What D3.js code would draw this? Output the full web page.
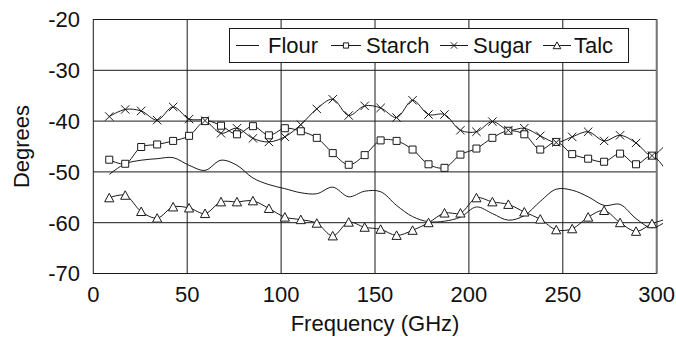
<!DOCTYPE html>
<html>
<head>
<meta charset="utf-8">
<script src="https://cdn.jsdelivr.net/npm/d3@7"></script>
<style>
  body { margin: 0; background: #fff; }
  svg { display: block; font-family: "Liberation Sans", Arial, sans-serif; }
</style>
</head>
<body>
<svg id="canvas"></svg>
<script>
// Frequency points (GHz) shared by every series
const freq = [8.5, 17, 25.5, 34, 42.5, 51, 59.5, 68, 76.5, 85, 93.5, 102, 110.5, 119, 127.5,
    136, 144.5, 153, 161.5, 170, 178.5, 187, 195.5, 204, 212.5, 221, 229.5, 238, 246.5,
    255, 263.5, 272, 280.5, 289, 297.5, 306];

const flour = [-50.5, -48.4, -47.7, -47.4, -47.2, -48.7, -49.7, -47.7, -48.7, -51.2, -52.5,
    -53.3, -54.1, -54.3, -53.0, -54.9, -53.8, -53.9, -56.6, -58.8, -59.8, -59.7, -58.9,
    -56.9, -58.2, -59.5, -58.6, -55.8, -53.4, -53.6, -54.9, -56.6, -56.4, -59.2, -61.0, -59.5];

const starch = [-47.6, -48.4, -45.1, -44.6, -43.9, -42.9, -40.0, -40.9, -42.6, -41.0, -42.8,
    -41.4, -42.0, -43.3, -46.3, -48.6, -46.7, -43.8, -43.9, -45.6, -48.5, -49.2, -46.6,
    -45.4, -43.3, -41.9, -42.6, -45.6, -44.1, -46.5, -47.4, -48.0, -46.4, -48.5, -46.8, -50.3];

const sugar = [-39.1, -37.7, -38.0, -39.8, -37.2, -39.6, -39.9, -42.4, -41.4, -43.4, -44.1,
    -43.1, -40.7, -37.6, -35.7, -38.9, -37.0, -37.4, -39.3, -35.9, -38.7, -38.7, -41.8,
    -42.1, -40.1, -41.8, -41.4, -42.9, -44.2, -43.1, -42.1, -43.9, -42.8, -44.3, -46.8, -44.0];

const talc = [-55.1, -54.6, -57.8, -59.1, -56.9, -57.1, -58.2, -55.9, -55.9, -55.7, -57.2,
    -58.9, -59.4, -60.1, -62.6, -59.9, -60.9, -61.3, -62.5, -61.5, -60.0, -58.1, -58.1,
    -55.1, -55.9, -56.4, -57.9, -59.3, -61.4, -61.2, -58.9, -57.6, -60.0, -61.7, -60.2, -59.2];

const xTicks = [0, 50, 100, 150, 200, 250, 300];
const yTicks = [-70, -60, -50, -40, -30, -20];

const width = 676;
const height = 338;
const ink = "#1a1a1a";

const svg = d3.select("#canvas")
    .attr("width", width)
    .attr("height", height);

const x = d3.scaleLinear().domain([0, 300]).range([93.3, 656.7]);
const y = d3.scaleLinear().domain([-70, -20]).range([273.5, 19.5]);

// marker shapes
const markers = {
    square: "M-3.5,-3.5h7v7h-7z",
    cross: "M-4.2,-4.2L4.2,4.2M-4.2,4.2L4.2,-4.2",
    triangle: "M0,-4.5L4.6,4H-4.6Z"
};
const smallMarkers = {
    square: "M-2.6,-2.6h5.2v5.2h-5.2z",
    cross: "M-3.2,-3.2L3.2,3.2M-3.2,3.2L3.2,-3.2",
    triangle: "M0,-3.6L3.8,3.2H-3.8Z"
};

const series = [
    { name: "Flour", values: flour, marker: null },
    { name: "Starch", values: starch, marker: "square" },
    { name: "Sugar", values: sugar, marker: "cross" },
    { name: "Talc", values: talc, marker: "triangle" }
];

// gridlines
svg.append("g")
    .selectAll("line")
    .data(yTicks.slice(1, -1))
    .enter()
    .append("line")
    .attr("x1", x(0)).attr("x2", x(300))
    .attr("y1", d => y(d)).attr("y2", d => y(d))
    .attr("stroke", ink).attr("stroke-width", 1);

svg.append("g")
    .selectAll("line")
    .data(xTicks.slice(1, -1))
    .enter()
    .append("line")
    .attr("x1", d => x(d)).attr("x2", d => x(d))
    .attr("y1", y(-20)).attr("y2", y(-70))
    .attr("stroke", ink).attr("stroke-width", 1);

// frame
svg.append("rect")
    .attr("x", x(0)).attr("y", y(-20))
    .attr("width", x(300) - x(0)).attr("height", y(-70) - y(-20))
    .attr("fill", "none").attr("stroke", ink).attr("stroke-width", 1);
svg.append("line")
    .attr("x1", x(300)).attr("x2", x(300))
    .attr("y1", y(-20)).attr("y2", y(-70))
    .attr("stroke", "#777").attr("stroke-width", 2);

// tick labels
svg.append("g")
    .selectAll("text")
    .data(yTicks)
    .enter()
    .append("text")
    .attr("x", 80)
    .attr("y", d => y(d))
    .attr("dy", "0.36em")
    .attr("text-anchor", "end")
    .attr("font-size", 22)
    .attr("fill", "#111")
    .text(d => d);

svg.append("g")
    .selectAll("text")
    .data(xTicks)
    .enter()
    .append("text")
    .attr("x", d => x(d))
    .attr("y", 301.5)
    .attr("text-anchor", "middle")
    .attr("font-size", 22)
    .attr("fill", "#111")
    .text(d => d);

// axis titles
svg.append("text")
    .attr("x", (x(0) + x(300)) / 2)
    .attr("y", 331)
    .attr("text-anchor", "middle")
    .attr("font-size", 22)
    .attr("fill", "#111")
    .text("Frequency (GHz)");

svg.append("text")
    .attr("transform", `translate(29,${(y(-20) + y(-70)) / 2}) rotate(-90)`)
    .attr("text-anchor", "middle")
    .attr("font-size", 22)
    .attr("fill", "#111")
    .text("Degrees");

// data, clipped a little past the right frame like the original
svg.append("clipPath").attr("id", "plotClip")
    .append("rect")
    .attr("x", x(0)).attr("y", y(-20))
    .attr("width", 663 - x(0)).attr("height", y(-70) - y(-20));

const plot = svg.append("g").attr("clip-path", "url(#plotClip)");

const line = d3.line()
    .x((d, i) => x(freq[i]))
    .y(d => y(d))
    .curve(d3.curveCatmullRom.alpha(0.5));

series.forEach(s => {
    plot.append("path")
        .attr("d", line(s.values))
        .attr("fill", "none")
        .attr("stroke", ink)
        .attr("stroke-width", 1);
});

series.filter(s => s.marker).forEach(s => {
    plot.append("g")
        .selectAll("path")
        .data(s.values)
        .enter()
        .append("path")
        .attr("transform", (d, i) => `translate(${x(freq[i])},${y(d)})`)
        .attr("d", markers[s.marker])
        .attr("fill", s.marker === "cross" ? "none" : "#fff")
        .attr("stroke", ink)
        .attr("stroke-width", 1);
});

// legend
const legendSpots = [
    { x1: 236, x2: 259, tx: 268 },
    { x1: 331, x2: 361, tx: 366 },
    { x1: 440, x2: 468, tx: 473 },
    { x1: 543, x2: 571, tx: 574 }
];

const legend = svg.append("g");
legend.append("rect")
    .attr("x", 229.5).attr("y", 28.5)
    .attr("width", 399).attr("height", 34)
    .attr("fill", "#fff")
    .attr("stroke", ink).attr("stroke-width", 1);

series.forEach((s, i) => {
    const spot = legendSpots[i];
    const ly = 45.5;
    legend.append("line")
        .attr("x1", spot.x1).attr("x2", spot.x2)
        .attr("y1", ly).attr("y2", ly)
        .attr("stroke", ink).attr("stroke-width", 1);
    if (s.marker) {
        legend.append("path")
            .attr("transform", `translate(${(spot.x1 + spot.x2) / 2},${ly})`)
            .attr("d", smallMarkers[s.marker])
            .attr("fill", s.marker === "cross" ? "none" : "#fff")
            .attr("stroke", ink).attr("stroke-width", 1);
    }
    legend.append("text")
        .attr("x", spot.tx)
        .attr("y", 53)
        .attr("font-size", 22)
        .attr("fill", "#111")
        .text(s.name);
});
</script>
</body>
</html>
